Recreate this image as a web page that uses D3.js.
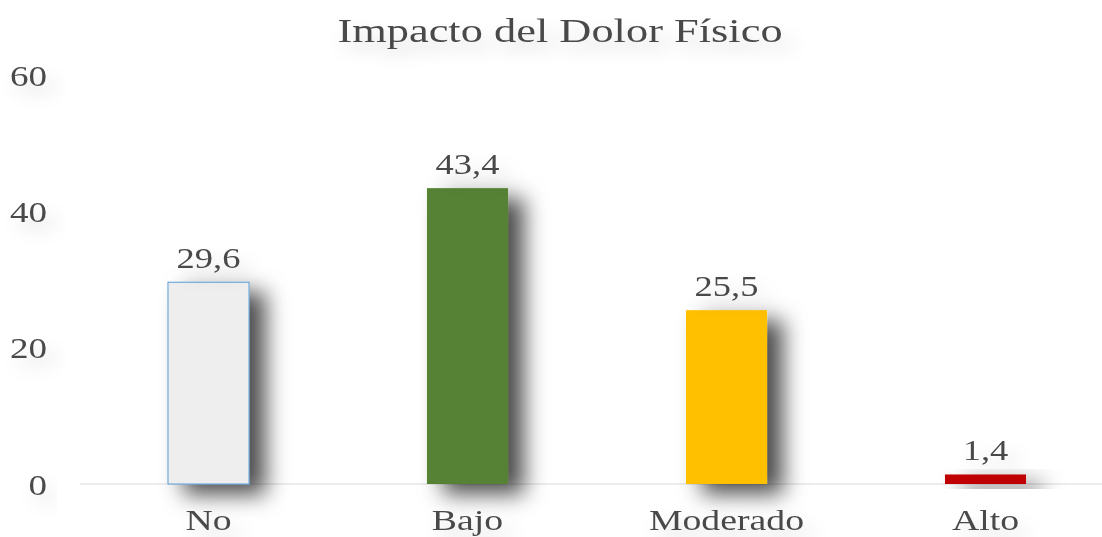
<!DOCTYPE html>
<html>
<head>
<meta charset="utf-8">
<script src="https://cdn.jsdelivr.net/npm/d3@7/dist/d3.min.js"></script>
<style>
  body { margin: 0; background: #fff; }
  text { font-family: "Liberation Serif", "Times New Roman", serif; fill: #4a4a4a; }
</style>
</head>
<body>
<div id="canvas"></div>
<script>
  // data
  var categories = ['No', 'Bajo', 'Moderado', 'Alto'];
  var values = [29.6, 43.4, 25.5, 1.4];
  var valueLabels = ['29,6', '43,4', '25,5', '1,4'];
  var barColors = ['#eeeeee', '#548235', '#ffc000', '#c00000'];
  var yTicks = [0, 20, 40, 60];

  const w = 1102;
  const h = 537;
  const SX = 1.28; // the original picture is stretched sideways

  const svg = d3.select('#canvas')
    .append('svg')
    .attr('width', w)
    .attr('height', h);

  const defs = svg.append('defs');
  defs.append('filter')
    .attr('id', 'barShadow')
    .attr('x', '-50%').attr('y', '-50%').attr('width', '250%').attr('height', '200%')
    .append('feDropShadow')
    .attr('dx', 16).attr('dy', 10)
    .attr('stdDeviation', 11)
    .attr('flood-color', '#000')
    .attr('flood-opacity', 0.7);
  defs.append('filter')
    .attr('id', 'textShadow')
    .attr('x', '-50%').attr('y', '-80%').attr('width', '200%').attr('height', '260%')
    .append('feDropShadow')
    .attr('dx', 6).attr('dy', 10)
    .attr('stdDeviation', 8)
    .attr('flood-color', '#000')
    .attr('flood-opacity', 0.15);

  const x = d3.scaleBand()
    .domain(categories)
    .range([79, 1115])
    .paddingInner(0.687)
    .paddingOuter(0.3435);

  const y = d3.scaleLinear()
    .domain([0, 60])
    .range([484, 75]);

  // stretched text helper
  function stretchedText(g, tx, ty, str, size, anchor) {
    g.append('g')
      .attr('transform', `translate(${tx},${ty}) scale(${SX},1)`)
      .append('text')
      .attr('text-anchor', anchor)
      .attr('font-size', size)
      .attr('filter', 'url(#textShadow)')
      .text(str);
  }

  // title
  stretchedText(svg, 560, 42, 'Impacto del Dolor Físico', 34.7, 'middle');

  // y tick labels
  yTicks.forEach(t => stretchedText(svg, 47, y(t) + 10.5, String(t), 29, 'end'));

  // baseline
  svg.append('line')
    .attr('x1', 80).attr('x2', w)
    .attr('y1', y(0)).attr('y2', y(0))
    .attr('stroke', '#d9d9d9')
    .attr('stroke-width', 1);

  // bars
  svg.selectAll('rect.bar')
    .data(values)
    .enter()
    .append('rect')
    .attr('class', 'bar')
    .attr('x', (d, i) => x(categories[i]))
    .attr('y', d => y(d))
    .attr('width', x.bandwidth())
    .attr('height', d => y(0) - y(d))
    .attr('fill', (d, i) => barColors[i])
    .attr('stroke', (d, i) => i === 0 ? '#5b9bd5' : 'none')
    .attr('stroke-width', 1)
    .attr('filter', 'url(#barShadow)');

  // value labels
  values.forEach((d, i) => {
    stretchedText(svg, x(categories[i]) + x.bandwidth() / 2, y(d) - 14, valueLabels[i], 28.5, 'middle');
  });

  // category labels
  categories.forEach(c => {
    stretchedText(svg, x(c) + x.bandwidth() / 2, 530, c, 29.5, 'middle');
  });
</script>
</body>
</html>
